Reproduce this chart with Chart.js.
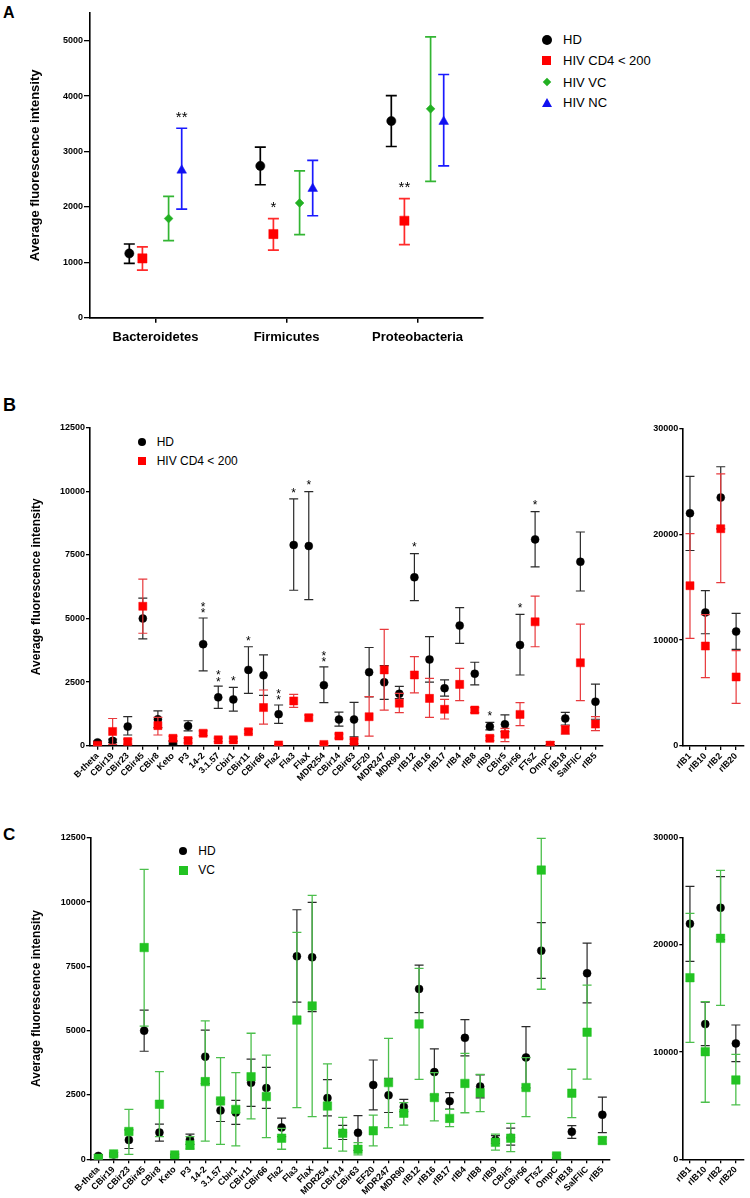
<!DOCTYPE html>
<html><head><meta charset="utf-8">
<script src="https://cdn.jsdelivr.net/npm/chart.js@4.4.1/dist/chart.umd.min.js"></script>
<style>
body{margin:0;width:750px;height:1198px;position:relative;background:#fff;overflow:hidden;font-family:'Liberation Sans',Arial,sans-serif;color:#000;}
canvas{position:absolute;}
.panel{position:absolute;font-weight:bold;line-height:1;}
.lt{position:absolute;white-space:nowrap;}
.mk{position:absolute;}
</style>
</head><body>
<div class="panel" style="left:3px;top:5px;font-size:16px;">A</div>
<div class="panel" style="left:3px;top:396px;font-size:18px;">B</div>
<div class="panel" style="left:3px;top:826px;font-size:17px;">C</div>

<!-- legend A -->
<div class="mk" style="left:542px;top:34.5px;width:10px;height:10px;border-radius:50%;background:#000;"></div>
<div class="lt" style="left:563px;top:33px;font-size:13px;line-height:13px;">HD</div>
<div class="mk" style="left:542px;top:55.5px;width:9px;height:9px;background:#ff0000;"></div>
<div class="lt" style="left:563px;top:53.7px;font-size:13px;line-height:13px;">HIV CD4 &lt; 200</div>
<div class="mk" style="left:544px;top:79.3px;width:6px;height:6px;background:#22b022;transform:rotate(45deg);"></div>
<div class="lt" style="left:563px;top:76px;font-size:13px;line-height:13px;">HIV VC</div>
<div class="mk" style="left:542px;top:98px;width:0;height:0;border-left:5px solid transparent;border-right:5px solid transparent;border-bottom:9px solid #1010f0;"></div>
<div class="lt" style="left:563px;top:96.4px;font-size:13px;line-height:13px;">HIV NC</div>

<!-- legend B -->
<div class="mk" style="left:137.7px;top:437.7px;width:8px;height:8px;border-radius:50%;background:#000;"></div>
<div class="lt" style="left:156.7px;top:435.8px;font-size:12px;line-height:12px;">HD</div>
<div class="mk" style="left:137.7px;top:456.7px;width:8px;height:8px;background:#ff0000;"></div>
<div class="lt" style="left:156.7px;top:454.8px;font-size:12px;line-height:12px;">HIV CD4 &lt; 200</div>

<!-- legend C -->
<div class="mk" style="left:179.3px;top:847px;width:8px;height:8px;border-radius:50%;background:#000;"></div>
<div class="lt" style="left:198.3px;top:845.1px;font-size:12px;line-height:12px;">HD</div>
<div class="mk" style="left:179px;top:865.7px;width:9px;height:9px;background:#22c322;"></div>
<div class="lt" style="left:198.3px;top:864.1px;font-size:12px;line-height:12px;">VC</div>

<canvas id="cA" width="500" height="360" style="left:0;top:0;"></canvas>
<canvas id="cB" width="610" height="400" style="left:0;top:400px;"></canvas>
<canvas id="cBr" width="150" height="400" style="left:600px;top:400px;"></canvas>
<canvas id="cC" width="620" height="388" style="left:0;top:810px;"></canvas>
<canvas id="cCr" width="150" height="388" style="left:600px;top:810px;"></canvas>

<script>
const F = "'Liberation Sans', Arial, Helvetica, sans-serif";
const yTitle = 'Average fluorescence intensity';

// ---------- Panel A data ----------
const phyla = ['Bacteroidetes', 'Firmicutes', 'Proteobacteria'];
const aHD    = [1160, 2740, 3550];
const aHDLo  = [980, 2400, 3090];
const aHDHi  = [1330, 3080, 4010];
const aCD4   = [1070, 1510, 1750];
const aCD4Lo = [860, 1220, 1320];
const aCD4Hi = [1280, 1790, 2150];
const aVC    = [1790, 2070, 3770];
const aVCLo  = [1390, 1500, 2460];
const aVCHi  = [2190, 2650, 5070];
const aNC    = [2660, 2330, 3540];
const aNCLo  = [1960, 1840, 2740];
const aNCHi  = [3420, 2840, 4390];
const aCD4Stars = ['', '*', '**'];
const aNCStars  = ['**', '', ''];
const aYTicks = [0, 1000, 2000, 3000, 4000, 5000];

// ---------- Panels B / C data ----------
const antigens = ['B-theta','CBir19','CBir23','CBir45','CBir8','Keto','P3','14-2','3.1.57','Cbir1','CBir11','CBir66','Fla2','Fla3','FlaX','MDR254','CBir14','CBir63','EF20','MDR247','MDR90','rIB12','rIB16','rIB17','rIB4','rIB8','rIB9','CBir5','CBir56','FTsZ','OmpC','rIB18','SalFliC','rIB5'];
const hdMean = [130,190,750,5000,1040,120,770,3990,1900,1820,2980,2770,1240,7890,7850,2380,1030,1030,2890,2490,2040,6620,3390,2260,4720,2830,750,840,3960,8110,20,1070,7230,1730];
const hdLo   = [80,120,420,4200,710,60,580,2940,1470,1360,2060,1980,880,6110,5740,1690,770,350,1920,1820,1850,5700,2500,1950,4020,2390,620,550,2780,7030,0,810,6080,1040];
const hdHi   = [180,260,1140,5800,1370,180,980,5020,2340,2290,3890,3570,1600,9700,9990,3100,1320,1700,3860,3150,2330,7550,4290,2590,5430,3280,920,1210,5160,9200,40,1310,8400,2420];
const cd4Mean = [20,560,160,5480,790,290,200,490,230,230,550,1500,30,1760,1100,50,380,170,1140,2980,1670,2780,1860,1430,2410,1400,290,450,1230,4870,20,620,3260,850];
const cd4Lo   = [0,50,60,4420,420,200,110,400,160,160,470,850,0,1510,1000,0,300,80,380,1400,1300,2080,1110,1050,1770,1300,200,160,790,3890,0,450,1770,590];
const cd4Hi   = [50,1070,260,6550,1110,380,290,580,300,300,630,2190,60,2020,1200,100,460,260,1930,4570,2060,3500,2650,1820,3040,1500,380,680,1690,5880,160,790,4780,1140];
const vcMean = [40,210,1080,8230,2140,170,560,3020,2270,1940,3210,2440,820,5410,5960,2070,1010,390,1110,2980,1790,5260,2400,1590,2950,2590,660,820,2790,11240,130,2570,4940,730];
const vcLo   = [10,150,190,5180,880,110,390,710,580,520,1570,840,390,2010,1660,430,320,170,520,1230,1330,3110,1490,1270,1810,1850,360,300,1660,6610,60,1620,3120,600];
const vcHi   = [70,270,1940,11270,3410,230,880,5380,3950,3370,4900,4050,1200,8820,10260,3710,1630,650,1720,4700,2200,7420,3370,1940,4120,3300,980,1400,3950,12470,200,3500,6770,860];
const bStars = ['','','','','','','','**','**','*','*','','**','*','*','**','','','','','','*','','','','','*','','*','*','','','',''];
const mainYTicks = [0, 2500, 5000, 7500, 10000, 12500];

const rAntigens = ['rIB1','rIB10','rIB2','rIB20'];
const rHdMean = [21980, 12610, 23460, 10810];
const rHdLo   = [18460, 10600, 20500, 9120];
const rHdHi   = [25460, 14670, 26370, 12530];
const rCd4Mean = [15140, 9440, 20520, 6520];
const rCd4Lo   = [10170, 6450, 15420, 4030];
const rCd4Hi   = [20050, 12400, 25690, 9000];
const rVcMean = [16940, 10040, 20610, 7400];
const rVcLo   = [10910, 5320, 14360, 5070];
const rVcHi   = [22940, 14700, 26950, 9790];
const rightYTicks = [0, 10000, 20000, 30000];

// ---------- error bar + asterisk plugin ----------
const errorBars = {
  id: 'errorBars',
  beforeDatasetDraw(chart, args) {
    const ds = chart.data.datasets[args.index];
    if (!ds.errLo) return;
    const ys = chart.scales.y, ctx = chart.ctx;
    ctx.save();
    ctx.strokeStyle = ds.errColor; ctx.lineWidth = ds.errWidth;
    args.meta.data.forEach((pt, i) => {
      const x = pt.x, yl = ys.getPixelForValue(ds.errLo[i]), yh = ys.getPixelForValue(ds.errHi[i]), c = ds.capHalf;
      ctx.beginPath();
      ctx.moveTo(x, yl); ctx.lineTo(x, yh);
      ctx.moveTo(x - c, yl); ctx.lineTo(x + c, yl);
      ctx.moveTo(x - c, yh); ctx.lineTo(x + c, yh);
      ctx.stroke();
    });
    ctx.restore();
  },
  afterDatasetsDraw(chart) {
    const ys = chart.scales.y, ctx = chart.ctx;
    chart.data.datasets.forEach((ds, di) => {
      if (!ds.stars) return;
      const meta = chart.getDatasetMeta(di);
      const fs = ds.starSize;
      ctx.save();
      ctx.fillStyle = '#000'; ctx.font = fs + 'px ' + F; ctx.textAlign = 'center'; ctx.textBaseline = 'alphabetic';
      meta.data.forEach((pt, i) => {
        const s = ds.stars[i]; if (!s) return;
        const top = ys.getPixelForValue(ds.errHi[i]);
        if (ds.starStack && s.length === 2) {
          ctx.fillText('*', pt.x, top - ds.starGap2 + 0.57 * fs);
          ctx.fillText('*', pt.x, top - ds.starGap2 - ds.starStep + 0.57 * fs);
        } else {
          ctx.fillText(s, pt.x, top - ds.starGap1 + 0.57 * fs);
        }
      });
      ctx.restore();
    });
  }
};

const common = {
  animation: false, responsive: false, devicePixelRatio: 1, events: [],
  plugins: { legend: { display: false }, tooltip: { enabled: false } }
};

function yAxis(max, ticks, width, title, titleSize, titlePad, tickLen) {
  return {
    type: 'linear', min: 0, max: max,
    afterBuildTicks(s) { s.ticks = ticks.map(v => ({ value: v })); },
    afterFit(s) { s.width = width; },
    ticks: { font: { family: F, size: 9, weight: 'bold' }, color: '#000', padding: 1, callback: v => String(v) },
    grid: { display: true, drawOnChartArea: false, drawTicks: true, tickLength: tickLen, color: '#000', lineWidth: 1.3 },
    border: { display: true, color: '#000', width: 1.6 },
    title: { display: !!title, text: title || '', color: '#000', font: { family: F, size: titleSize, weight: 'bold' }, padding: { top: titlePad, bottom: 0 } }
  };
}
function xCat(height) {
  return {
    type: 'category', offset: true,
    afterFit(s) { s.height = height; },
    ticks: { autoSkip: false, maxRotation: 45, minRotation: 45, font: { family: F, size: 9, weight: 'bold' }, color: '#000', padding: 1 },
    grid: { display: true, offset: false, drawOnChartArea: false, drawTicks: true, tickLength: 4, color: '#000', lineWidth: 1.3 },
    border: { display: true, color: '#000', width: 1.6 }
  };
}
function pts(label, data, lo, hi, style, r, fill, errColor, errWidth, cap, order, extra) {
  return Object.assign({
    label, data, errLo: lo, errHi: hi, showLine: false,
    pointStyle: style, pointRadius: r, pointBackgroundColor: fill, pointBorderColor: fill, pointBorderWidth: 0.5,
    errColor, errWidth, capHalf: cap, order
  }, extra || {});
}

// ---------- Panel A ----------
const aOff = [-0.2, -0.1, 0.1, 0.2];
const toXY = (arr, k) => arr.map((v, i) => ({ x: i + aOff[k], y: v }));
const starA = { starSize: 15, starGap1: 15 };
new Chart(document.getElementById('cA'), {
  type: 'scatter',
  data: { datasets: [
    pts('HD', toXY(aHD, 0), aHDLo, aHDHi, 'circle', 4.6, '#000', '#000', 1.7, 5.5, 4),
    pts('HIV CD4 < 200', toXY(aCD4, 1), aCD4Lo, aCD4Hi, 'rect', 6.5, '#ff0000', '#ff2a2a', 1.7, 5.5, 3, Object.assign({ stars: aCD4Stars }, starA)),
    pts('HIV VC', toXY(aVC, 2), aVCLo, aVCHi, 'rectRot', 4.4, '#22b022', '#33b533', 1.7, 5.5, 2),
    pts('HIV NC', toXY(aNC, 3), aNCLo, aNCHi, 'triangle', 5.6, '#1010f0', '#1a1aff', 1.7, 5.5, 1, Object.assign({ stars: aNCStars }, starA))
  ]},
  options: Object.assign({}, common, {
    layout: { padding: { top: 13, right: 17, bottom: 0, left: 0 } },
    scales: {
      x: {
        type: 'linear', min: -0.5, max: 2.5,
        afterBuildTicks(s) { s.ticks = phyla.map((_, i) => ({ value: i })); },
        afterFit(s) { s.height = 42.3; },
        ticks: { callback: v => phyla[v], font: { family: F, size: 13, weight: 'bold' }, color: '#000', padding: 7, maxRotation: 0 },
        grid: { display: true, drawOnChartArea: false, drawTicks: true, tickLength: 5, color: '#000', lineWidth: 1.5 },
        border: { display: true, color: '#000', width: 1.8 }
      },
      y: yAxis(5500, aYTicks, 90, yTitle, 13, 27.2, 6)
    }
  }),
  plugins: [errorBars]
});

// ---------- Panel B ----------
const starB = { starSize: 12, starGap1: 9, starStack: true, starGap2: 7.5, starStep: 6.5 };
new Chart(document.getElementById('cB'), {
  type: 'line',
  data: { labels: antigens, datasets: [
    pts('HD', hdMean, hdLo, hdHi, 'circle', 4, '#000', '#2a2a2a', 1.2, 4.5, 2, Object.assign({ stars: bStars }, starB)),
    pts('HIV CD4 < 200', cd4Mean, cd4Lo, cd4Hi, 'rect', 5.7, '#ff0000', '#e8393c', 1.2, 4.5, 1)
  ]},
  options: Object.assign({}, common, {
    layout: { padding: { top: 27.7, right: 7, bottom: 0, left: 0 } },
    scales: { x: xCat(54.3), y: yAxis(12500, mainYTicks, 90, yTitle, 12, 29.5, 4) }
  }),
  plugins: [errorBars]
});
new Chart(document.getElementById('cBr'), {
  type: 'line',
  data: { labels: rAntigens, datasets: [
    pts('HD', rHdMean, rHdLo, rHdHi, 'circle', 4, '#000', '#2a2a2a', 1.2, 4.5, 2),
    pts('HIV CD4 < 200', rCd4Mean, rCd4Lo, rCd4Hi, 'rect', 5.7, '#ff0000', '#e8393c', 1.2, 4.5, 1)
  ]},
  options: Object.assign({}, common, {
    layout: { padding: { top: 28.3, right: 4, bottom: 0, left: 0 } },
    scales: { x: xCat(54), y: yAxis(30000, rightYTicks, 82.3, null, 12, 0, 3) }
  }),
  plugins: [errorBars]
});

// ---------- Panel C ----------
new Chart(document.getElementById('cC'), {
  type: 'line',
  data: { labels: antigens, datasets: [
    pts('HD', hdMean, hdLo, hdHi, 'circle', 4, '#000', '#2a2a2a', 1.2, 4.5, 2),
    pts('VC', vcMean, vcLo, vcHi, 'rect', 6, '#22c322', '#4cbf4c', 1.3, 4.5, 1)
  ]},
  options: Object.assign({}, common, {
    layout: { padding: { top: 27.7, right: 10, bottom: 0, left: 0 } },
    scales: { x: xCat(38.7), y: yAxis(12500, mainYTicks, 90.7, yTitle, 12, 29.5, 4) }
  }),
  plugins: [errorBars]
});
new Chart(document.getElementById('cCr'), {
  type: 'line',
  data: { labels: rAntigens, datasets: [
    pts('HD', rHdMean, rHdLo, rHdHi, 'circle', 4, '#000', '#2a2a2a', 1.2, 4.5, 2),
    pts('VC', rVcMean, rVcLo, rVcHi, 'rect', 6, '#22c322', '#4cbf4c', 1.3, 4.5, 1)
  ]},
  options: Object.assign({}, common, {
    layout: { padding: { top: 27.7, right: 3.7, bottom: 0, left: 0 } },
    scales: { x: xCat(38.7), y: yAxis(30000, rightYTicks, 82.3, null, 12, 0, 3) }
  }),
  plugins: [errorBars]
});
</script>
</body></html>
